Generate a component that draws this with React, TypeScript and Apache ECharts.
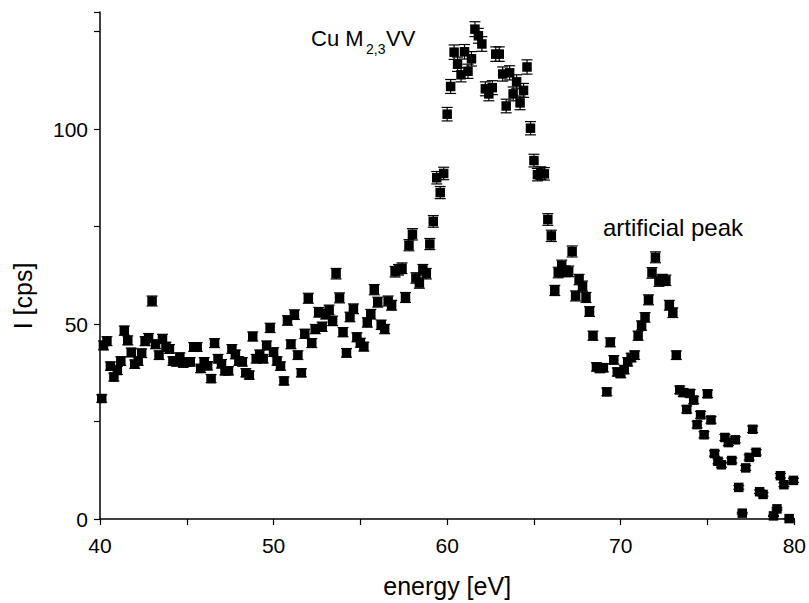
import React, { useEffect, useRef } from "react";
import * as echarts from "echarts";

const energy: number[] = [
  40.1, 40.2, 40.4, 40.6, 40.8, 41.0, 41.2, 41.4, 41.6, 41.8, 42.0, 42.2, 42.4, 42.6, 42.8, 43.0, 43.2, 43.4, 43.6, 43.8,
  44.0, 44.2, 44.4, 44.6, 44.8, 45.0, 45.2, 45.4, 45.6, 45.8, 46.0, 46.2, 46.4, 46.6, 46.8, 47.0, 47.2, 47.4, 47.6, 47.8,
  48.0, 48.2, 48.4, 48.6, 48.8, 49.0, 49.2, 49.4, 49.6, 49.8, 50.0, 50.2, 50.4, 50.6, 50.8, 51.0, 51.2, 51.4, 51.6, 51.8,
  52.0, 52.2, 52.4, 52.6, 52.8, 53.0, 53.2, 53.4, 53.6, 53.8, 54.0, 54.2, 54.4, 54.6, 54.8, 55.0, 55.2, 55.4, 55.6, 55.8,
  56.0, 56.2, 56.4, 56.6, 56.8, 57.0, 57.2, 57.4, 57.6, 57.8, 58.0, 58.2, 58.4, 58.6, 58.8, 59.0, 59.2, 59.4, 59.6, 59.8,
  60.0, 60.2, 60.4, 60.6, 60.8, 61.0, 61.2, 61.4, 61.6, 61.8, 62.0, 62.2, 62.4, 62.6, 62.8, 63.0, 63.2, 63.4, 63.6, 63.8,
  64.0, 64.2, 64.4, 64.6, 64.8, 65.0, 65.2, 65.4, 65.6, 65.8, 66.0, 66.2, 66.4, 66.6, 66.8, 67.0, 67.2, 67.4, 67.6, 67.8,
  68.0, 68.2, 68.4, 68.6, 68.8, 69.0, 69.2, 69.4, 69.6, 69.8, 70.0, 70.2, 70.4, 70.6, 70.8, 71.0, 71.2, 71.4, 71.6, 71.8,
  72.0, 72.2, 72.4, 72.6, 72.8, 73.0, 73.2, 73.4, 73.6, 73.8, 74.0, 74.2, 74.4, 74.6, 74.8, 75.0, 75.2, 75.4, 75.6, 75.8,
  76.0, 76.2, 76.4, 76.6, 76.8, 77.0, 77.2, 77.4, 77.6, 77.8, 78.0, 78.2, 78.8, 79.0, 79.2, 79.4, 79.7, 79.95,
];

const intensity: number[] = [
  30.9, 44.5, 45.6, 39.2, 36.4, 38.1, 40.5, 48.3, 45.8, 42.7, 39.7, 40.5, 42.5, 45.6, 46.4, 55.9, 44.8, 42.0, 46.2, 44.2,
  43.6, 40.5, 40.3, 41.5, 40.0, 40.3, 40.3, 44.1, 44.1, 38.6, 40.3, 39.3, 36.0, 45.1, 41.1, 39.8, 38.0, 38.0, 43.6, 42.2,
  40.5, 40.3, 37.5, 36.9, 46.8, 41.1, 42.2, 41.1, 44.5, 49.0, 42.8, 40.5, 39.2, 35.4, 50.9, 44.8, 52.4, 42.0, 37.5, 47.5,
  56.6, 45.1, 48.7, 53.0, 49.3, 52.5, 53.6, 50.8, 62.9, 56.7, 47.9, 42.6, 51.8, 53.9, 46.6, 45.2, 44.2, 50.4, 52.5, 58.8,
  55.6, 49.8, 48.7, 55.9, 54.8, 63.4, 63.9, 64.3, 56.8, 70.2, 73.0, 61.8, 60.5, 63.9, 62.9, 70.5, 76.3, 87.5, 83.7, 88.6,
  103.8, 110.9, 119.7, 116.6, 113.9, 119.8, 114.8, 118.0, 125.6, 123.9, 121.8, 110.3, 109.0, 110.6, 119.2, 119.2, 114.1, 105.9, 114.4, 109.0,
  112.1, 106.7, 109.9, 115.9, 100.2, 91.9, 88.3, 88.7, 88.5, 76.8, 72.6, 58.6, 63.2, 65.0, 63.5, 63.5, 68.6, 57.2, 61.4, 59.7,
  56.8, 53.2, 47.0, 39.0, 38.6, 38.8, 32.6, 45.3, 40.8, 37.7, 37.3, 38.3, 40.3, 41.4, 42.0, 47.0, 49.6, 51.7, 56.2, 63.1,
  67.1, 61.0, 61.4, 61.2, 54.8, 52.9, 42.0, 33.1, 32.4, 28.1, 32.2, 30.5, 24.2, 26.7, 21.6, 32.1, 25.4, 16.8, 14.8, 13.9,
  20.9, 19.6, 15.0, 20.3, 8.1, 1.5, 13.1, 15.8, 23.0, 17.1, 7.0, 6.3, 0.8, 2.6, 11.1, 8.8, 0.1, 9.9,
];

const xTicks = { min: 40, max: 80, interval: 10 };
const yTicks = { min: 0, max: 130, interval: 50 };
const xName = "energy [eV]";
const yName = "I [cps]";
const peakLabel = "artificial peak";

const FONT = "'Liberation Sans', Arial, sans-serif";

export default function App() {
  const ref = useRef<HTMLDivElement>(null);
  useEffect(() => {
    if (!ref.current) return;
    const chart = echarts.init(ref.current, undefined, { renderer: "svg" });
    const pts = energy.map((x, i) => [x, intensity[i]]);
    // statistical (counting) uncertainty of each point
    const errPts = energy.map((x, i) => [x, intensity[i], 0.17 * Math.sqrt(Math.max(intensity[i], 0))]);
    chart.setOption({
      animation: false,
      backgroundColor: "#fff",
      grid: { left: 100, right: 11, top: 12, bottom: 80, containLabel: false },
      xAxis: {
        type: "value",
        min: xTicks.min,
        max: xTicks.max,
        interval: xTicks.interval,
        name: xName,
        nameLocation: "middle",
        nameGap: 54,
        nameTextStyle: { fontFamily: FONT, fontSize: 25, color: "#000" },
        axisLine: { lineStyle: { color: "#000", width: 1.5 } },
        axisTick: { show: true, inside: false, length: 6, lineStyle: { color: "#000", width: 1.2 } },
        minorTick: { show: true, splitNumber: 2, length: 6, lineStyle: { color: "#000", width: 1.2 } },
        axisLabel: { fontFamily: FONT, fontSize: 21, color: "#000", margin: 16 },
        splitLine: { show: false },
      },
      yAxis: {
        type: "value",
        min: yTicks.min,
        max: yTicks.max,
        interval: yTicks.interval,
        axisLine: { show: true, lineStyle: { color: "#000", width: 1.5 } },
        axisTick: { show: true, inside: false, length: 6, lineStyle: { color: "#000", width: 1.2 } },
        minorTick: { show: true, splitNumber: 2, length: 6, lineStyle: { color: "#000", width: 1.2 } },
        axisLabel: { fontFamily: FONT, fontSize: 21, color: "#000", margin: 12, showMaxLabel: false },
        splitLine: { show: false },
      },
      series: [
        {
          type: "custom",
          z: 2,
          data: errPts,
          renderItem: (params: any, api: any) => {
            const x = api.value(0);
            const y = api.value(1);
            const e = api.value(2);
            const top = api.coord([x, y + e]);
            const bot = api.coord([x, y - e]);
            const hw = 5.5;
            const st = { stroke: "#000", lineWidth: 1.2 };
            return {
              type: "group",
              children: [
                { type: "line", shape: { x1: top[0], y1: top[1], x2: bot[0], y2: bot[1] }, style: st },
                { type: "line", shape: { x1: top[0] - hw, y1: top[1], x2: top[0] + hw, y2: top[1] }, style: st },
                { type: "line", shape: { x1: bot[0] - hw, y1: bot[1], x2: bot[0] + hw, y2: bot[1] }, style: st },
              ],
            };
          },
        },
        {
          type: "scatter",
          z: 3,
          data: pts,
          symbol: "rect",
          symbolSize: 9.5,
          itemStyle: { color: "#000", opacity: 1 },
        },
      ],
      graphic: [
        {
          type: "text",
          x: 23,
          y: 296,
          rotation: Math.PI / 2,
          style: { text: yName, font: `25px ${FONT}`, fill: "#000", align: "center", verticalAlign: "middle" },
        },
        { type: "text", left: 311, top: 27, style: { text: "Cu M", font: `22px ${FONT}`, fill: "#000" } },
        { type: "text", left: 366, top: 42, style: { text: "2,3", font: `14px ${FONT}`, fill: "#000" } },
        { type: "text", left: 386, top: 27, style: { text: "VV", font: `22px ${FONT}`, fill: "#000" } },
        { type: "text", left: 603, top: 215, style: { text: peakLabel, font: `24px ${FONT}`, fill: "#000" } },
      ],
    });
    return () => chart.dispose();
  }, []);
  return <div ref={ref} style={{ width: 809, height: 603, position: "absolute", left: 0, top: 0 }} />;
}
